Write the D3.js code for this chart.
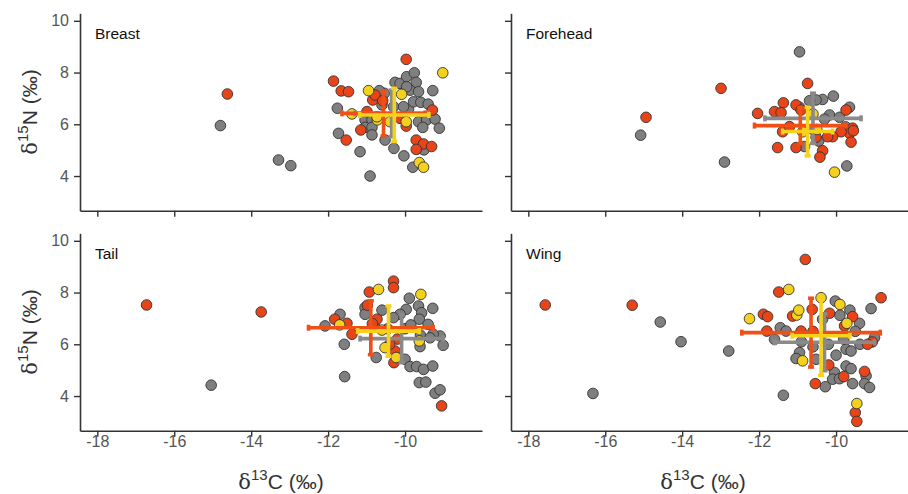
<!DOCTYPE html>
<html><head><meta charset="utf-8">
<script src="https://cdn.jsdelivr.net/npm/d3@7/dist/d3.min.js"></script>
<style>body{margin:0;background:#fff}svg{display:block}</style>
</head><body><svg id="c" width="908" height="494"></svg>
<script>
// ---------- DATA ----------
const panels = ["Breast", "Forehead", "Tail", "Wing"];
const groups = ["gray", "red", "yellow"];
const xTicks = [-18, -16, -14, -12, -10];
const yTicks = [4, 6, 8, 10];
const xDomain = [-18.45, -8.0];
const yDomain = [2.66, 10.29];

const breastGray = [[-14.80,5.95],[-13.29,4.62],[-12.97,4.40],[-11.76,6.62],[-11.73,5.65],[-11.17,4.94],[-10.91,4.00],[-11.04,6.17],[-10.86,6.17],[-11.04,5.88],[-10.86,5.88],[-10.86,5.59],[-10.52,5.39],[-10.29,5.07],[-10.03,4.78],[-10.65,7.07],[-10.54,7.20],[-10.67,7.30],[-10.60,6.75],[-10.30,6.68],[-9.91,6.58],[-10.26,7.62],[-10.13,7.58],[-9.96,7.84],[-9.76,7.99],[-9.71,7.62],[-9.87,7.32],[-9.65,7.26],[-9.28,7.30],[-9.78,6.87],[-9.59,6.85],[-9.40,6.78],[-9.65,6.10],[-9.44,6.17],[-9.22,6.20],[-9.11,5.85],[-9.54,5.88],[-9.51,5.01],[-9.80,4.34],[-10.04,6.68],[-9.96,7.45]];
const breastRed = [[-14.62,7.17],[-11.86,7.67],[-11.66,7.29],[-11.47,7.26],[-11.15,5.78],[-11.53,5.39],[-10.84,6.94],[-10.78,7.13],[-10.99,6.49],[-10.58,6.91],[-10.13,6.23],[-9.97,5.93],[-9.97,8.51],[-9.29,6.55],[-9.71,5.39],[-9.52,5.24],[-9.71,5.03],[-9.31,5.14]];
const breastYellow = [[-11.38,6.40],[-10.95,7.30],[-10.72,6.17],[-10.39,6.10],[-10.09,7.16],[-9.97,6.10],[-9.02,7.99],[-9.63,4.52],[-9.52,4.34],[-10.73,6.29]];

const foreheadGray = [[-15.08,5.58],[-12.90,4.54],[-10.95,8.80],[-10.07,7.09],[-10.35,6.96],[-10.52,6.94],[-10.69,6.91],[-10.95,6.66],[-9.65,6.66],[-10.17,6.36],[-9.91,6.27],[-10.82,5.14],[-9.72,4.39],[-10.60,5.80],[-10.45,5.35],[-10.30,6.20],[-9.75,5.90]];
const foreheadRed = [[-14.94,6.27],[-12.99,7.39],[-10.74,7.58],[-11.37,6.83],[-12.04,6.42],[-11.60,6.49],[-11.43,6.45],[-11.04,6.75],[-9.74,6.55],[-11.39,5.71],[-11.21,5.91],[-9.57,5.85],[-9.65,5.65],[-9.61,5.31],[-9.87,5.71],[-10.09,5.52],[-10.22,5.52],[-10.52,5.50],[-10.35,4.98],[-10.42,4.73],[-11.52,5.10],[-11.04,5.10],[-10.91,6.55],[-9.55,5.75]];
const foreheadYellow = [[-10.04,4.15],[-10.87,5.71],[-10.50,5.80],[-10.60,6.40]];

const tailGray = [[-15.04,4.42],[-12.08,6.71],[-11.69,7.16],[-11.58,6.00],[-11.57,4.75],[-11.04,7.42],[-11.04,7.16],[-10.60,7.32],[-9.89,7.78],[-9.97,7.35],[-9.65,7.48],[-9.57,7.22],[-9.28,7.39],[-9.63,6.97],[-9.40,6.77],[-10.13,7.16],[-9.09,6.32],[-9.01,5.96],[-9.27,6.39],[-9.61,5.91],[-10.75,5.49],[-10.00,5.42],[-9.87,5.14],[-9.70,5.14],[-9.52,5.03],[-9.28,5.16],[-9.63,4.52],[-9.46,4.54],[-9.22,4.11],[-9.09,4.24],[-10.80,6.70],[-10.45,6.60],[-10.00,6.60],[-9.85,6.75],[-9.60,6.35],[-9.35,6.25],[-10.30,7.03]];
const tailRed = [[-16.72,7.52],[-13.74,7.25],[-11.83,6.97],[-11.51,6.81],[-11.38,6.39],[-10.93,8.02],[-10.30,8.44],[-10.30,8.19],[-10.98,7.51],[-10.73,6.97],[-10.29,5.29],[-10.26,5.74],[-9.05,3.62],[-10.20,6.20],[-10.85,6.80],[-10.40,6.00]];
const tailYellow = [[-10.69,8.12],[-9.59,7.93],[-9.63,6.13],[-10.52,5.87],[-10.23,5.49],[-11.70,6.75],[-10.60,6.55]];

const wingGray = [[-14.57,6.86],[-14.03,6.10],[-12.79,5.74],[-16.32,4.10],[-11.37,4.03],[-10.02,7.67],[-9.64,7.32],[-9.09,7.38],[-9.90,7.12],[-9.39,6.81],[-10.35,6.97],[-11.45,6.64],[-11.30,6.51],[-11.60,6.19],[-10.95,5.68],[-11.04,5.45],[-10.52,5.42],[-10.00,5.58],[-9.74,5.81],[-9.61,5.74],[-9.74,5.16],[-9.61,5.06],[-10.04,4.91],[-10.09,4.65],[-9.91,4.67],[-10.28,4.36],[-9.57,4.48],[-9.22,4.78],[-9.26,4.48],[-9.13,4.33],[-9.38,6.00],[-9.00,6.26],[-10.90,6.10],[-10.20,6.00],[-9.80,6.20],[-10.60,5.90],[-9.50,6.50]];
const wingRed = [[-17.56,7.52],[-15.30,7.51],[-10.80,9.28],[-11.49,8.02],[-11.89,7.16],[-11.78,7.07],[-11.13,7.09],[-10.62,7.35],[-8.83,7.80],[-9.57,7.07],[-9.78,6.71],[-10.17,7.20],[-11.80,6.51],[-10.91,6.51],[-10.19,5.20],[-9.80,4.75],[-10.54,4.48],[-9.26,4.95],[-9.50,3.36],[-9.46,3.02],[-9.06,6.09],[-9.18,6.00],[-10.60,6.50]];
const wingYellow = [[-11.23,8.12],[-12.25,6.99],[-11.02,7.13],[-10.97,7.32],[-10.39,7.80],[-9.90,7.54],[-9.72,6.81],[-10.87,5.36],[-9.46,3.71]];

// mean and SD per group: [meanX, sdX, meanY, sdY]
const breastBars   = {gray:[-10.35,0.95,6.42,0.90], red:[-10.56,1.08,6.42,0.87], yellow:[-10.28,0.90,6.36,1.03]};
const foreheadBars = {gray:[-10.60,1.25,6.23,0.97], red:[-10.93,1.19,5.95,0.70], yellow:[-10.74,0.65,5.72,0.94]};
const tailBars     = {gray:[-10.09,1.08,6.22,0.93], red:[-10.89,1.62,6.64,1.04], yellow:[-10.43,0.80,6.51,0.97]};
const wingBars     = {gray:[-10.30,1.30,6.08,1.10], red:[-10.65,1.80,6.45,1.33], yellow:[-10.39,0.75,6.33,1.53]};

const pointsByPanel = {
  Breast:{gray:breastGray, red:breastRed, yellow:breastYellow},
  Forehead:{gray:foreheadGray, red:foreheadRed, yellow:foreheadYellow},
  Tail:{gray:tailGray, red:tailRed, yellow:tailYellow},
  Wing:{gray:wingGray, red:wingRed, yellow:wingYellow}
};
const barsByPanel = {Breast:breastBars, Forehead:foreheadBars, Tail:tailBars, Wing:wingBars};

// ---------- STYLE / LAYOUT ----------
const pointFill = {gray:"#7f7f7f", red:"#e8441a", yellow:"#f3d11e"};
const barColor  = {gray:"#8a8a8a", red:"#f04f16", yellow:"#f7d21a"};
const layout = {
  Breast:  {x:[80,482],  y:[210.7,13.3],  col:0, row:0},
  Forehead:{x:[511,913], y:[210.7,13.3],  col:1, row:0},
  Tail:    {x:[80,482],  y:[430.7,233.3], col:0, row:1},
  Wing:    {x:[511,913], y:[430.7,233.3], col:1, row:1}
};
const font = "Liberation Sans, Arial, sans-serif";
const deltaFont = "DejaVu Serif, Liberation Serif, serif";
const svg = d3.select("#c");
const minusFmt = d => (d < 0 ? "-" + Math.abs(d) : String(d));

panels.forEach(name => {
  const L = layout[name];
  const xs = d3.scaleLinear().domain(xDomain).range(L.x);
  const ys = d3.scaleLinear().domain(yDomain).range(L.y);
  const g = svg.append("g");

  // axes
  const xa = d3.axisBottom(xs).tickValues(xTicks).tickSize(6).tickSizeOuter(0).tickPadding(-1)
    .tickFormat(L.row === 1 ? minusFmt : () => "");
  const ya = d3.axisLeft(ys).tickValues(yTicks).tickSize(6).tickSizeOuter(0).tickPadding(5)
    .tickFormat(L.col === 0 ? minusFmt : () => "");
  const gx = g.append("g").attr("transform", `translate(0,${L.y[0]})`).call(xa);
  const gy = g.append("g").attr("transform", `translate(${L.x[0]},0)`).call(ya);
  [gx, gy].forEach(a => {
    a.select(".domain").attr("stroke", "#333").attr("stroke-width", 1.6);
    a.selectAll(".tick line").attr("stroke", "#333").attr("stroke-width", 1.4);
    a.selectAll(".tick text").attr("fill", "#555").style("font-size", "16px").style("font-family", font);
  });

  // points
  const pts = pointsByPanel[name];
  const all = [];
  groups.forEach(k => pts[k].forEach(p => all.push({k, x:p[0], y:p[1]})));
  g.append("g").selectAll("circle").data(all).join("circle")
    .attr("cx", d => xs(d.x)).attr("cy", d => ys(d.y)).attr("r", 5.3)
    .attr("fill", d => pointFill[d.k]).attr("stroke", "#333").attr("stroke-width", 0.9);

  // error bars
  const bars = barsByPanel[name];
  const cap = 3;
  groups.forEach(k => {
    const [mx, sx, my, sy] = bars[k];
    const bg = g.append("g").attr("stroke", barColor[k]).attr("stroke-width", 3.6);
    const x0 = xs(mx - sx), x1 = xs(mx + sx), yc = ys(my);
    const y0 = ys(my - sy), y1 = ys(my + sy), xc = xs(mx);
    bg.append("line").attr("x1", x0).attr("x2", x1).attr("y1", yc).attr("y2", yc);
    bg.append("line").attr("x1", x0).attr("x2", x0).attr("y1", yc - cap).attr("y2", yc + cap);
    bg.append("line").attr("x1", x1).attr("x2", x1).attr("y1", yc - cap).attr("y2", yc + cap);
    bg.append("line").attr("x1", xc).attr("x2", xc).attr("y1", y0).attr("y2", y1);
    bg.append("line").attr("x1", xc - cap).attr("x2", xc + cap).attr("y1", y0).attr("y2", y0);
    bg.append("line").attr("x1", xc - cap).attr("x2", xc + cap).attr("y1", y1).attr("y2", y1);
  });

  // panel label
  g.append("text").attr("x", L.x[0] + 15).attr("y", L.y[1] + 26)
    .attr("fill", "#111").style("font-size", "15.5px").style("font-family", font).text(name);

  // y title
  if (L.col === 0) {
    const cy = (L.y[0] + L.y[1]) / 2;
    const t = g.append("text").attr("transform", `translate(37,${cy}) rotate(-90)`)
      .attr("text-anchor", "middle").attr("fill", "#333").style("font-size", "21px").style("font-family", font);
    t.append("tspan").style("font-family", deltaFont).text("δ");
    t.append("tspan").attr("dy", -9).style("font-size", "15px").text("15");
    t.append("tspan").attr("dy", 9).text("N (‰)");
  }
  // x title
  if (L.row === 1) {
    const cx = (L.x[0] + Math.min(L.x[1], 895)) / 2;
    const t = g.append("text").attr("x", cx).attr("y", 489)
      .attr("text-anchor", "middle").attr("fill", "#333").style("font-size", "21px").style("font-family", font);
    t.append("tspan").style("font-family", deltaFont).text("δ");
    t.append("tspan").attr("dy", -9).style("font-size", "15px").text("13");
    t.append("tspan").attr("dy", 9).text("C (‰)");
  }
});
</script></body></html>
